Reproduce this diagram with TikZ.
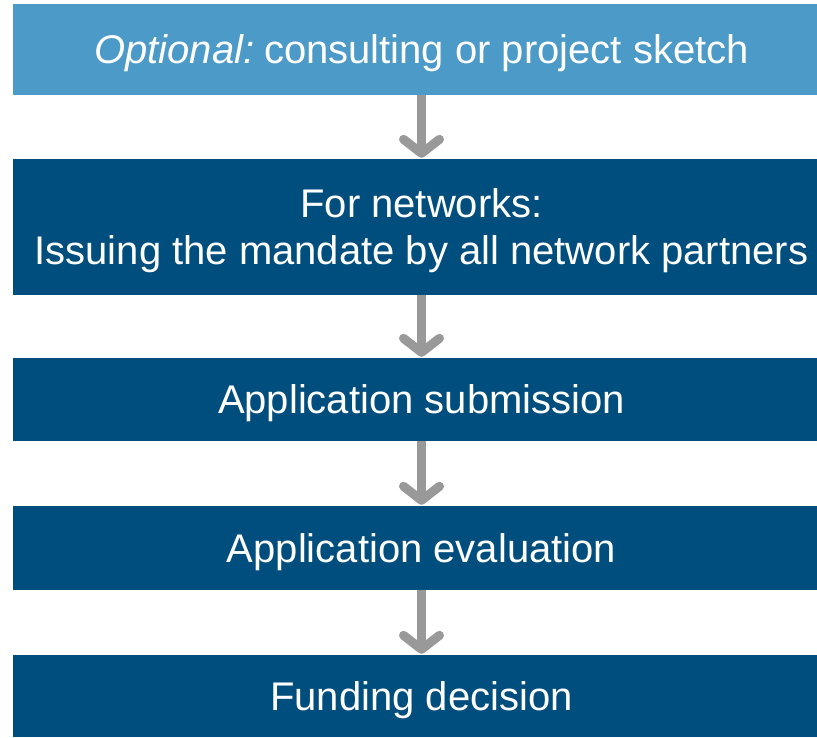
\documentclass[tikz,border=0pt]{standalone}
\usepackage{fontspec}
\setmainfont{Liberation Sans}
\usetikzlibrary{arrows.meta}
\definecolor{lightbox}{HTML}{4B9AC8}
\definecolor{darkbox}{HTML}{004E7D}
\definecolor{arrowgray}{HTML}{999999}
\tikzset{
  box/.style={fill=#1, draw=none, inner sep=0pt, minimum width=817pt},
  txt/.style={text=white, inner sep=0pt, align=center, yshift=-4pt,
    font=\fontsize{40}{47}\selectfont},
  flow/.style={draw=arrowgray, line width=9pt,
    -{Straight Barb[length=14pt,width=36pt,round]}, shorten >=1pt}
}
\begin{document}
\begin{tikzpicture}[x=1pt,y=-1pt]
\useasboundingbox (0,0) rectangle (817,737);
\begin{scope}
\clip (0,0) rectangle (817,737);
\node[box=lightbox, minimum height=91pt, label={[txt]center:{\itshape Optional:}\hspace{-5pt} consulting or project sketch}] (b1) at (421.5,49.5) {};
\node[box=darkbox, minimum height=136pt, label={[txt]center:For networks:\\ Issuing the mandate by all network partners}] (b2) at (421.5,227) {};
\node[box=darkbox, minimum height=83pt, label={[txt]center:Application submission}] (b3) at (421.5,399.5) {};
\node[box=darkbox, minimum height=84pt, label={[txt]center:Application evaluation}] (b4) at (421.5,548) {};
\node[box=darkbox, minimum height=82pt, label={[txt]center:Funding decision}] (b5) at (421.5,696) {};
\end{scope}
\draw[flow] (b1.south) -- (b2.north);
\draw[flow] (b2.south) -- (b3.north);
\draw[flow] (b3.south) -- (b4.north);
\draw[flow] (b4.south) -- (b5.north);
\end{tikzpicture}
\end{document}
